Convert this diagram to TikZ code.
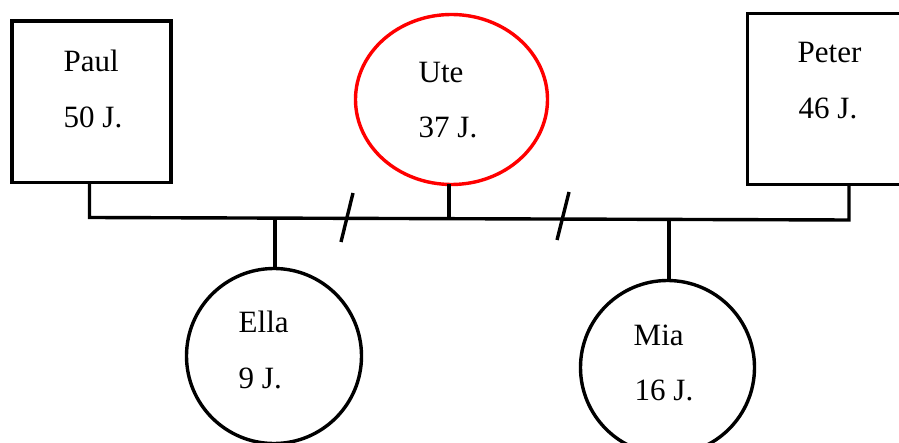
\documentclass[tikz,border=0pt]{standalone}
\usepackage{fontspec}
\setmainfont{Liberation Serif}
\usetikzlibrary{shapes.geometric}
\begin{document}
\begin{tikzpicture}[x=1pt,y=-1pt,line width=3.4pt,
  male/.style={draw,rectangle,inner sep=0pt,outer sep=0pt,minimum width=159pt},
  female/.style={draw,circle,inner sep=0pt,outer sep=0pt,minimum size=175pt},
  lbl/.style={anchor=base west,inner sep=0pt,font=\fontsize{31}{37}\selectfont},
  link/.style={line join=miter,line cap=butt}]
\useasboundingbox (0,0) rectangle (899,443);
\clip (0,0) rectangle (899,443);
% persons
\node[male,minimum height=161.7pt] (paul) at (91.3,101.7) {};
\node[male,minimum height=171pt] (peter) at (826.7,99) {};
\node[draw=red,ellipse,inner sep=0pt,outer sep=0pt,minimum width=192pt,minimum height=170pt] (ute) at (451.5,99.5) {};
\node[female] (ella) at (274,356) {};
\node[female,minimum size=174pt] (mia) at (667.5,367.5) {};
% labels
\node[lbl] (paulname) at (62,72) {Paul};
\node[lbl] (paulage) at (62,128) {50 J.};
\node[lbl] (utename) at (417,83) {Ute};
\node[lbl] (uteage) at (417,138) {37 J.};
\node[lbl] (petername) at (796,63) {Peter};
\node[lbl] (peterage) at (797,119) {46 J.};
\node[lbl] (ellaname) at (237,333) {Ella};
\node[lbl] (ellaage) at (237,388) {9 J.};
\node[lbl] (mianame) at (632,345) {Mia};
\node[lbl] (miaage) at (633,400) {16 J.};
% junction points on the partnership line
\coordinate (jl) at (89.5,217.5);
\coordinate (jr) at (849,220);
\coordinate (jute) at (449,218.7);
\coordinate (jella) at (275,218.1);
\coordinate (jmia) at (669,219.4);
% connectors
\draw[link] (paul.south -| jl) -- (jl) -- (jr) -- (peter.south -| jr);
\draw[link] (ute.south -| jute) -- (jute);
\draw[link] (jella) -- (ella.north -| jella);
\draw[link] (jmia) -- (mia.north -| jmia);
% separation marks
\coordinate (s1a) at (341,242); \coordinate (s1b) at (353,193);
\coordinate (s2a) at (557,240); \coordinate (s2b) at (569,192);
\draw (s1a) -- (s1b);
\draw (s2a) -- (s2b);
\end{tikzpicture}
\end{document}
